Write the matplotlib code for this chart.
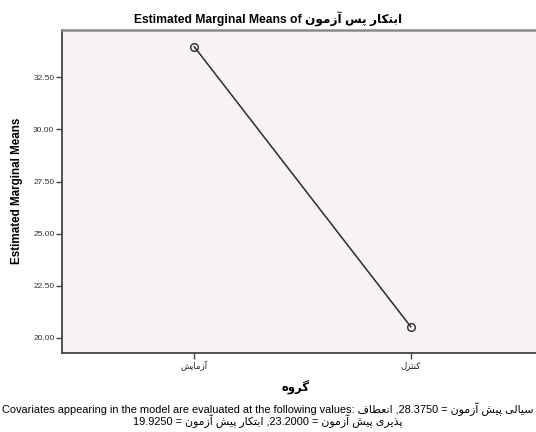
import re
import matplotlib
matplotlib.use("Agg")
import matplotlib.pyplot as plt

# ---------------- data ----------------
groups = ["آزمایش", "کنترل"]
means = [33.97, 20.53]
y_ticks = [20.0, 22.5, 25.0, 27.5, 30.0, 32.5]
dv_name = "ابتکار پس آزمون"
x_title = "گروه"
cov_names = ["سیالی پیش آزمون", "انعطاف پذیری پیش آزمون", "ابتکار پیش آزمون"]
cov_values = ["28.3750", "23.2000", "19.9250"]

# ---------------- minimal Arabic/Persian shaping + bidi ----------------
FORMS = {
    "\u0627": ("\uFE8D", "\uFE8E"),
    "\u0622": ("\uFE81", "\uFE82"),
    "\u0628": ("\uFE8F", "\uFE90", "\uFE91", "\uFE92"),
    "\u062A": ("\uFE95", "\uFE96", "\uFE97", "\uFE98"),
    "\u067E": ("\uFB56", "\uFB57", "\uFB58", "\uFB59"),
    "\u0631": ("\uFEAD", "\uFEAE"),
    "\u0632": ("\uFEAF", "\uFEB0"),
    "\u0630": ("\uFEAB", "\uFEAC"),
    "\u0633": ("\uFEB1", "\uFEB2", "\uFEB3", "\uFEB4"),
    "\u0634": ("\uFEB5", "\uFEB6", "\uFEB7", "\uFEB8"),
    "\u0637": ("\uFEC1", "\uFEC2", "\uFEC3", "\uFEC4"),
    "\u0639": ("\uFEC9", "\uFECA", "\uFECB", "\uFECC"),
    "\u0641": ("\uFED1", "\uFED2", "\uFED3", "\uFED4"),
    "\u06A9": ("\uFB8E", "\uFB8F", "\uFB90", "\uFB91"),
    "\u06AF": ("\uFB92", "\uFB93", "\uFB94", "\uFB95"),
    "\u0644": ("\uFEDD", "\uFEDE", "\uFEDF", "\uFEE0"),
    "\u0645": ("\uFEE1", "\uFEE2", "\uFEE3", "\uFEE4"),
    "\u0646": ("\uFEE5", "\uFEE6", "\uFEE7", "\uFEE8"),
    "\u0648": ("\uFEED", "\uFEEE"),
    "\u0647": ("\uFEE9", "\uFEEA", "\uFEEB", "\uFEEC"),
    "\u06CC": ("\uFBFC", "\uFBFD", "\uFBFE", "\uFBFF"),
}


def shape_word(w):
    out = []
    for i, c in enumerate(w):
        f = FORMS.get(c)
        if f is None:
            out.append(c)
            continue
        prev = w[i - 1] if i > 0 else None
        nxt = w[i + 1] if i + 1 < len(w) else None
        before = prev is not None and prev in FORMS and len(FORMS[prev]) == 4
        after = len(f) == 4 and nxt is not None and nxt in FORMS
        if before and after:
            out.append(f[3])
        elif before:
            out.append(f[1])
        elif after:
            out.append(f[2])
        else:
            out.append(f[0])
    return "".join(out)


def rtl(s):
    tokens = re.findall(r"[\u0600-\u06FF]+|[0-9][0-9.]*|.", s)
    vis = []
    for t in reversed(tokens):
        if re.match(r"[\u0600-\u06FF]", t):
            vis.append(shape_word(t)[::-1])
        else:
            vis.append(t)
    return "".join(vis)


# ---------------- figure ----------------
FONT = ["Liberation Sans", "DejaVu Sans"]
plt.rcParams["font.family"] = FONT

W, H = 536, 432
fig = plt.figure(figsize=(W / 100, H / 100), dpi=100)
ax = fig.add_axes([62 / W, 1 - 353 / H, (W - 62) / W + 0.01, (353 - 29.7) / H])
ax.set_facecolor("#F6F2F6")

x = list(range(len(groups)))
ax.plot(x, means, color="#2b2b2b", lw=1.1, marker="o", ms=5.5,
        mfc="none", mec="#2b2b2b", mew=1.0)

ax.set_xlim(-0.611, 1.573 + 0.03)
ax.set_ylim(19.27, 34.79)
ax.set_yticks(y_ticks)
ax.set_yticklabels([f"{v:.2f}" for v in y_ticks], fontsize=6.0, color="#333333")
ax.set_xticks(x)
ax.set_xticklabels([rtl(g) for g in groups], fontsize=6.2, color="#222222")
ax.tick_params(axis="both", length=4, width=1, color="#444444", pad=1.5)

for side in ["left", "bottom"]:
    ax.spines[side].set_color("#444444")
    ax.spines[side].set_linewidth(1.3)
ax.spines["top"].set_color("#8a8a8a")
ax.spines["top"].set_linewidth(1.8)
ax.spines["right"].set_visible(False)

fig.text(0.5, 1 - 19 / H, "Estimated Marginal Means of " + rtl(dv_name),
         ha="center", va="center", fontsize=8.7, fontweight="bold")
fig.text(17 / W, 1 - 191 / H, "Estimated Marginal Means", rotation=90,
         ha="center", va="center", fontsize=8.4, fontweight="bold")
fig.text(295 / W, 1 - 388 / H, rtl(x_title), ha="center", va="center",
         fontsize=8.4, fontweight="bold")

line1 = ("Covariates appearing in the model are evaluated at the following values: "
         + rtl(f"{cov_names[0]} = {cov_values[0]}, {cov_names[1].split(' ')[0]}"))
rest = " ".join(cov_names[1].split(" ")[1:])
line2 = rtl(f"{rest} = {cov_values[1]}, {cov_names[2]} = {cov_values[2]}")
fig.text(0.5, 1 - 409 / H, line1, ha="center", va="center", fontsize=7.9)
fig.text(0.5, 1 - 421.5 / H, line2, ha="center", va="center", fontsize=7.9)

fig.savefig("out.png", dpi=100)
